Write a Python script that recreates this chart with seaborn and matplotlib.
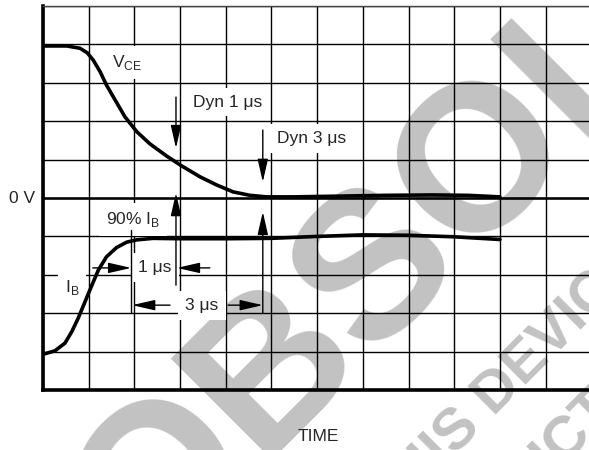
import matplotlib
matplotlib.use("Agg")
import matplotlib.pyplot as plt
import seaborn as sns

# time axis in grid divisions, signals in divisions (0 V at 0)
vce_t = [0.0, 0.52, 0.81, 0.97, 1.10, 1.25, 1.39, 1.58, 1.79, 2.05, 2.34, 2.71,
         3.03, 3.44, 3.80, 4.16, 4.53, 4.89, 5.5, 6.5, 7.5, 8.5, 9.3, 10.0]
vce_v = [3.96, 3.96, 3.90, 3.78, 3.59, 3.29, 2.94, 2.55, 2.12, 1.73, 1.41, 1.09,
         0.84, 0.55, 0.34, 0.16, 0.07, 0.03, 0.03, 0.05, 0.07, 0.08, 0.07, 0.03]

ib_t = [0.0, 0.26, 0.48, 0.63, 0.77, 0.92, 1.07, 1.21, 1.39, 1.61, 1.83, 2.05,
        2.41, 3.0, 4.0, 5.0, 6.0, 7.0, 8.0, 9.0, 10.0]
ib_v = [-4.07, -3.98, -3.78, -3.48, -3.13, -2.70, -2.27, -1.88, -1.53, -1.29, -1.15, -1.09,
        -1.05, -1.06, -1.06, -1.05, -1.00, -0.96, -0.97, -1.01, -1.08]

x_ticks = list(range(0, 13))
y_ticks = list(range(-5, 6))

sns.set_style("white")
plt.rcParams["font.family"] = ["Liberation Sans", "DejaVu Sans"]

fig = plt.figure(figsize=(5.89, 4.5), dpi=100)
ax = fig.add_axes([0.073, 0.1333, 0.931, 0.8533])
ax.patch.set_alpha(0)

# watermark, drawn behind everything
wm = dict(color="#c2c2c2", fontweight="bold", rotation=45, rotation_mode="anchor",
          ha="center", va="center", zorder=-5)
fig.text(0.872, 0.703, "OBSOLETE", fontsize=150, **wm)
fig.text(0.862, 0.150, "THIS DEVICE", fontsize=42, **wm)
fig.text(0.858, -0.110, "PRODUCT", fontsize=42, **wm)

ax.set_xlim(0, 12)
ax.set_ylim(-5, 5)
ax.set_xticks(x_ticks)
ax.set_yticks(y_ticks)
ax.set_xticklabels([])
ax.set_yticklabels([])
ax.tick_params(length=0)
ax.grid(True, color="black", lw=1.0)
ax.axhline(0, color="black", lw=1.8, zorder=2)

for s in ["left", "bottom"]:
    ax.spines[s].set_linewidth(2.6)
    ax.spines[s].set_color("black")
ax.spines["top"].set_linewidth(1.0)
ax.spines["top"].set_color("#444444")
ax.spines["right"].set_visible(False)

sns.lineplot(x=vce_t, y=vce_v, sort=False, color="black", lw=2.6, ax=ax, zorder=4)
sns.lineplot(x=ib_t, y=ib_v, sort=False, color="black", lw=2.6, ax=ax, zorder=4)

box = dict(facecolor="white", edgecolor="none", pad=5)
fs = 12.5
ax.text(1.84, 3.54, r"V$_\mathregular{CE}$", fontsize=fs, ha="center", va="center", bbox=box, zorder=3)
ax.text(3.28, 2.50, "Dyn 1 μs", fontsize=fs, ha="left", va="center", bbox=box, zorder=3)
ax.text(5.12, 1.56, "Dyn 3 μs", fontsize=fs, ha="left", va="center", bbox=box, zorder=3)
ax.text(1.38, -0.57, r"90% I$_\mathregular{B}$", fontsize=fs, ha="left", va="center", bbox=box, zorder=3)
ax.text(0.48, -2.34, r"I$_\mathregular{B}$", fontsize=fs, ha="left", va="center", bbox=box, zorder=3)
ax.text(2.45, -1.82, "1 μs", fontsize=fs, ha="center", va="center", bbox=box, zorder=3)
ax.text(3.48, -2.79, "3 μs", fontsize=fs, ha="center", va="center", bbox=box, zorder=3)
ax.text(-0.18, 0.0, "0 V", fontsize=fs, ha="right", va="center", clip_on=False)
fig.text(0.54, 0.03, "TIME", fontsize=fs, ha="center", va="center")

arr = dict(arrowstyle="-|>,head_length=0.7,head_width=0.16", color="black",
           lw=1.0, mutation_scale=20, shrinkA=0, shrinkB=0)


def arrow(x0, y0, x1, y1):
    ax.annotate("", xy=(x1, y1), xytext=(x0, y0), arrowprops=arr, zorder=5)


arrow(2.91, 2.63, 2.91, 1.30)
arrow(2.91, -2.27, 2.91, 0.13)
arrow(4.81, 1.77, 4.81, 0.42)
arrow(4.81, -3.0, 4.81, -0.36)
arrow(1.09, -1.82, 1.93, -1.82)
arrow(3.65, -1.82, 2.93, -1.82)
arrow(2.78, -2.79, 1.95, -2.79)
arrow(4.05, -2.79, 4.81, -2.79)
ax.plot([1.93, 1.93], [-0.83, -3.0], color="black", lw=1.0, zorder=5)

fig.savefig("out.png", dpi=100)
